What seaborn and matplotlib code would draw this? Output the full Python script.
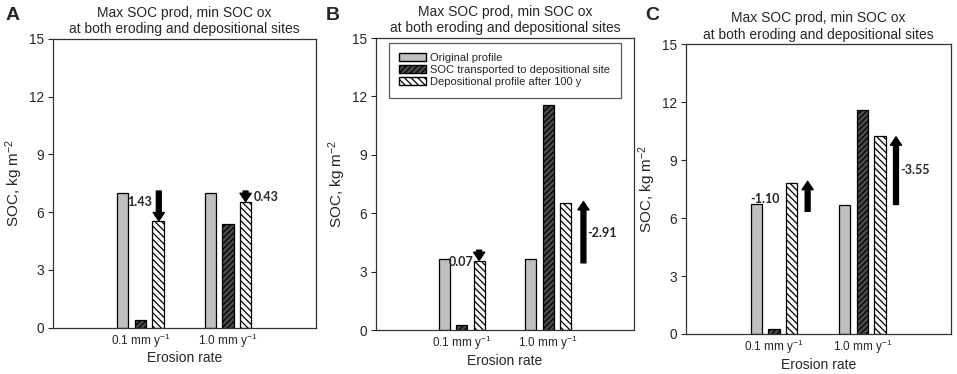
import pandas as pd
import matplotlib.pyplot as plt
import seaborn as sns
from matplotlib.patches import Patch

# Values (kg m-2)
rates = ['0.1 mm y$^{-1}$', '1.0 mm y$^{-1}$']
series = ['Original profile', 'SOC transported to depositional site',
          'Depositional profile after 100 y']

original_A = [6.98, 6.98]
transported_A = [0.38, 5.37]
depositional_A = [5.55, 6.55]

original_B = [3.63, 3.63]
transported_B = [0.28, 11.57]
depositional_B = [3.57, 6.55]

original_C = [6.71, 6.66]
transported_C = [0.27, 11.57]
depositional_C = [7.82, 10.22]

# arrows: (x, y_start, y_end), labels: (x, y, text, ha)
arrows_A = [(0.21, 7.1, 5.55), (1.2, 7.1, 6.55)]
labels_A = [(0.13, 6.55, '1.43', 'right'), (1.29, 6.8, '0.43', 'left')]
arrows_B = [(0.2, 4.1, 3.57), (1.41, 3.45, 6.6)]
labels_B = [(0.13, 3.5, '0.07', 'right'), (1.45, 4.97, '-2.91', 'left')]
arrows_C = [(0.38, 6.35, 7.9), (1.38, 6.7, 10.2)]
labels_C = [(0.07, 7.0, '-1.10', 'right'), (1.43, 8.5, '-3.55', 'left')]

sns.set_style('ticks')
plt.rcParams['font.family'] = ['Liberation Sans', 'DejaVu Sans']
plt.rcParams['mathtext.fontset'] = 'custom'
plt.rcParams['mathtext.rm'] = 'Liberation Sans'
plt.rcParams['mathtext.it'] = 'Liberation Sans:italic'
plt.rcParams['hatch.linewidth'] = 0.9

fig = plt.figure(figsize=(9.57, 3.74), dpi=100)
axes_pos = [[0.0551, 0.1238, 0.2748, 0.772],
            [0.3926, 0.1176, 0.2702, 0.7807],
            [0.7165, 0.1070, 0.2770, 0.7750]]

panels = [
    ('A', original_A, transported_A, depositional_A, arrows_A, labels_A),
    ('B', original_B, transported_B, depositional_B, arrows_B, labels_B),
    ('C', original_C, transported_C, depositional_C, arrows_C, labels_C),
]
letter_x = [0.006, 0.340, 0.674]

faces = ['#c0c0c0', '#4a4a4a', 'white']
hatches = [None, '//////', '\\\\\\\\\\']

for pos, lx, (letter, orig, trans, dep, arrows, labels) in zip(axes_pos, letter_x, panels):
    ax = fig.add_axes(pos)
    df = pd.DataFrame({
        'rate': rates * 3,
        'series': [series[0]] * 2 + [series[1]] * 2 + [series[2]] * 2,
        'soc': orig + trans + dep,
    })
    sns.barplot(data=df, x='rate', y='soc', hue='series', hue_order=series,
                width=0.6, gap=0.36, ax=ax, legend=False, linewidth=0.9,
                edgecolor='black')
    for cont, fc, h in zip(ax.containers, faces, hatches):
        for p in cont:
            p.set_facecolor(fc)
            p.set_edgecolor('black')
            if h:
                p.set_hatch(h)
    ax.set_xlim(-1, 2)
    ax.set_ylim(0, 15)
    ax.set_yticks([0, 3, 6, 9, 12, 15])
    ax.tick_params(axis='x', length=0, labelsize=8.5, pad=3)
    ax.tick_params(axis='y', length=3.3, labelsize=9.8, pad=3)
    for s in ax.spines.values():
        s.set_linewidth(0.9)
        s.set_color('#333333')
    ax.set_xlabel('Erosion rate', fontsize=10, labelpad=1)
    ax.set_ylabel('SOC, kg m$^{-2}$', fontsize=11, labelpad=3)
    ax.set_title('Max SOC prod, min SOC ox\nat both eroding and depositional sites',
                 fontsize=10, linespacing=1.2, pad=4)
    fig.text(lx, 0.98, letter, fontsize=14, fontweight='bold',
             va='top', ha='left')

    for x, y0, y1 in arrows:
        ax.annotate('', xy=(x, y1), xytext=(x, y0),
                    arrowprops=dict(arrowstyle='simple,head_width=0.8,head_length=0.6,tail_width=0.35',
                                    color='black', shrinkA=0, shrinkB=0))
    for x, y, t, ha in labels:
        ax.text(x, y, t, ha=ha, va='center', fontsize=9, fontweight='bold',
                family='Lato')

    if letter == 'B':
        handles = [Patch(facecolor=fc, edgecolor='black', hatch=h, label=s)
                   for fc, h, s in zip(faces, hatches, series)]
        leg = ax.legend(handles=handles, loc='upper right', fontsize=8,
                        frameon=True, fancybox=False, edgecolor='#333333',
                        handlelength=2.4, handleheight=0.7, labelspacing=0.18,
                        borderpad=0.95, handletextpad=0.35, borderaxespad=0,
                        bbox_to_anchor=(0.947, 0.984))
        leg.get_frame().set_linewidth(0.9)

plt.savefig('out.png', dpi=100)
plt.close()
